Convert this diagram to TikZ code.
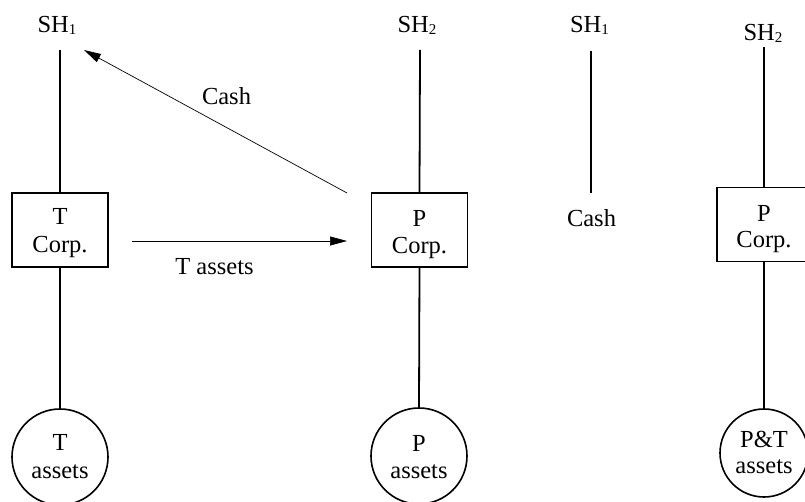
\documentclass[tikz,border=0pt]{standalone}
\usepackage{fontspec}
\setmainfont{Liberation Serif}
\usetikzlibrary{arrows.meta}
\newcommand\shsub[1]{\raisebox{-1.5pt}{\fontsize{15}{15}\selectfont #1}}
\begin{document}
\begin{tikzpicture}[x=1pt,y=-1pt,
  txt/.style={inner sep=0pt, anchor=base, font=\fontsize{24.5}{28}\selectfont},
  corpbox/.style={draw, line width=1.7pt, minimum width=96pt, minimum height=74pt, inner sep=0pt},
  assetcirc/.style={draw, circle, line width=1.6pt, inner sep=0pt},
  vline/.style={line width=1.8pt},
  flow/.style={line width=0.7pt, -{Triangle[length=17pt,width=9pt]}},
]
\useasboundingbox (0,0) rectangle (805,502);
\clip (0,0) rectangle (805,502);

% column 1
\node[txt] (sh1a) at (57,33) {SH\shsub{1}};
\node[corpbox] (tc) at (60,230) {};
\node[txt] (tcA) at (60,225) {T};
\node[txt] (tcB) at (60,253) {Corp.};
\node[assetcirc, minimum size=96pt] (ta) at (60,457) {};
\node[txt] (taA) at (60,450) {T};
\node[txt] (taB) at (60,478) {assets};
\coordinate (t1) at (60,50);
\draw[vline] (t1) -- (tc.north);
\draw[vline] (tc.south) -- (ta.north);

% column 2
\node[txt] (sh2a) at (417,33) {SH\shsub{2}};
\node[corpbox] (pc) at (419.5,230) {};
\node[txt] (pcA) at (419.5,226.5) {P};
\node[txt] (pcB) at (419.5,254) {Corp.};
\node[assetcirc, minimum size=96pt] (pa) at (419,456) {};
\node[txt] (paA) at (419,451) {P};
\node[txt] (paB) at (419,478) {assets};
\coordinate (t2) at (420,50);
\draw[vline] (t2) -- (pc.north);
\draw[vline] (pc.south) -- (pa.north);

% flows
\coordinate (tstart) at (132,241);
\coordinate (tend) at (347,241);
\draw[flow] (tstart) -- (tend);
\node[txt] (tlbl) at (214.5,275) {T assets};
\coordinate (cstart) at (347,193);
\coordinate (cend) at (84,50);
\draw[flow] (cstart) -- (cend);
\node[txt] (clbl) at (226.5,105) {Cash};

% column 3
\node[txt] (sh1b) at (589.5,33) {SH\shsub{1}};
\coordinate (t3) at (591,51);
\coordinate (t3b) at (591,193);
\draw[vline] (t3) -- (t3b);
\node[txt] (cashb) at (591.5,227) {Cash};

% column 4
\node[txt] (sh2b) at (763,41) {SH\shsub{2}};
\node[corpbox] (pcb) at (765,224.5) {};
\node[txt] (pcbA) at (764,222) {P};
\node[txt] (pcbB) at (764,248) {Corp.};
\node[assetcirc, minimum size=88pt] (ptc) at (764,453) {};
\node[txt] (ptcA) at (764,447) {P\&T};
\node[txt] (ptcB) at (764,473) {assets};
\coordinate (t4) at (764,47);
\draw[vline] (t4) -- (t4 |- pcb.north);
\draw[vline] (ptc.north |- pcb.south) -- (ptc.north);
\end{tikzpicture}
\end{document}
